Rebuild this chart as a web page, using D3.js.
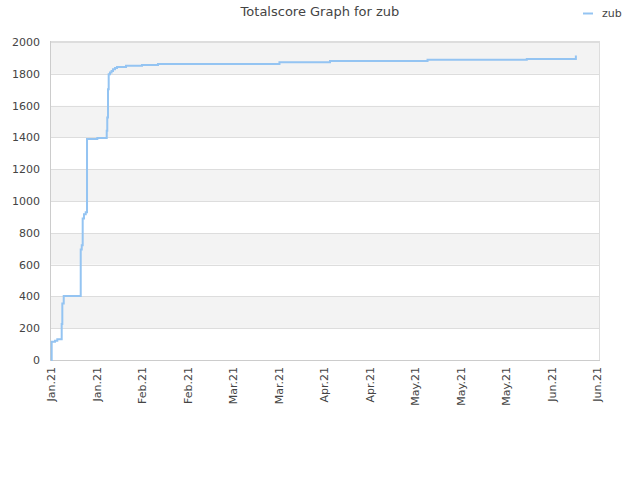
<!DOCTYPE html>
<html><head><meta charset="utf-8">
<script src="https://cdn.jsdelivr.net/npm/d3@7/dist/d3.min.js"></script>
<style>body{margin:0;background:#fff}svg{display:block}text{font-family:"DejaVu Sans",sans-serif}</style>
</head><body>
<svg id="c" width="640" height="480"></svg>
<script>
const title = "Totalscore Graph for zub";
const seriesName = "zub";
const dates = ["2021-01-10T01:00","2021-01-10T05:00","2021-01-11T05:30","2021-01-11T22:30","2021-01-13T07:00","2021-01-13T11:30","2021-01-13T22:00","2021-01-19T03:30","2021-01-19T11:00","2021-01-19T18:00","2021-01-20T03:30","2021-01-20T16:30","2021-01-21T02:00","2021-01-24T06:00","2021-01-27T03:30","2021-01-27T07:30","2021-01-27T13:00","2021-01-27T18:00","2021-01-28T03:30","2021-01-28T15:00","2021-01-29T02:00","2021-01-29T16:30","2021-01-30T07:30","2021-02-02T02:00","2021-02-07T00:00","2021-02-11T22:00","2021-03-21T07:00","2021-04-05T20:30","2021-05-05T20:30","2021-06-05T09:30","2021-06-20T12:00"];
const scores = [0,115,121,130,226,356,402,695,722,890,917,929,1390,1396,1442,1525,1703,1797,1808,1818,1829,1837,1843,1851,1856,1861,1873,1881,1888,1893,1915];
const tickDates = ["2021-01-10","2021-01-24","2021-02-07","2021-02-21","2021-03-07","2021-03-21","2021-04-04","2021-04-18","2021-05-02","2021-05-16","2021-05-30","2021-06-13","2021-06-27"];
const tickLabels = ["Jan.21","Jan.21","Feb.21","Feb.21","Mar.21","Mar.21","Apr.21","Apr.21","May.21","May.21","May.21","Jun.21","Jun.21"];
const yTicks = [0,200,400,600,800,1000,1200,1400,1600,1800,2000];

const svg = d3.select("#c");
const L=50,R=600,T=41,B=360;
const parse = d3.timeParse("%Y-%m-%dT%H:%M");
const parseD = d3.timeParse("%Y-%m-%d");
const data = dates.map((d,i)=>({d:parse(d),v:scores[i]}));
const tks = tickDates.map(parseD);
const x = d3.scaleTime().domain([tks[0], tks[tks.length-1]]).range([51,597]);
const y = d3.scaleLinear().domain([0,2000]).range([B,42]);

// bands
for(let i=0;i<yTicks.length-1;i++){
  const a=yTicks[i], b=yTicks[i+1];
  const top = i===yTicks.length-2 ? T : y(b);
  svg.append("rect").attr("x",L).attr("width",R-L)
    .attr("y", top).attr("height", y(a)-top)
    .attr("fill", (i%2===1)?"#f3f3f3":"#ffffff");
}
// grid
svg.append("g").selectAll("line").data(yTicks).join("line")
  .attr("x1",L).attr("x2",R).attr("y1",d=>Math.round(y(d))+0.5).attr("y2",d=>Math.round(y(d))+0.5)
  .attr("stroke","#dddddd").attr("stroke-width",1);
// border
svg.append("rect").attr("x",L+0.5).attr("y",T+0.5).attr("width",R-L-1).attr("height",B-T)
  .attr("fill","none").attr("stroke","#dddddd");
svg.append("line").attr("x1",L+0.5).attr("x2",L+0.5).attr("y1",T).attr("y2",B+0.5).attr("stroke","#cccccc");
svg.append("line").attr("x1",L).attr("x2",R).attr("y1",B+0.5).attr("y2",B+0.5).attr("stroke","#cccccc");

// y labels
const ya = d3.axisLeft(y).tickValues(yTicks).tickSize(0).tickPadding(10).tickFormat(d3.format("d"));
const gy = svg.append("g").attr("transform",`translate(${L},0)`).call(ya);
gy.select(".domain").remove();
gy.selectAll("text").attr("font-size",11).attr("fill","#444").attr("font-family","DejaVu Sans");

// x labels
const xa = d3.axisBottom(x).tickValues(tks).tickSize(0).tickFormat((d,i)=>tickLabels[i]);
const gx = svg.append("g").attr("transform",`translate(0,${B})`).call(xa);
gx.select(".domain").remove();
gx.selectAll("text").attr("font-size",11).attr("fill","#444").attr("font-family","DejaVu Sans")
  .attr("text-anchor","end").attr("dy","0.35em").attr("y",0)
  .attr("transform","translate(0,7) rotate(-90)");

// line
const line = d3.line().x(d=>x(d.d)).y(d=>y(d.v)).curve(d3.curveStepAfter);
svg.append("path").datum(data).attr("d",line).attr("fill","none")
  .attr("stroke","#94c4f2").attr("stroke-width",2);

// title
svg.append("text").attr("x",320).attr("y",16).attr("text-anchor","middle")
  .attr("font-size",13).attr("fill","#444").text(title);
// legend
svg.append("line").attr("x1",583).attr("x2",593).attr("y1",13.5).attr("y2",13.5)
  .attr("stroke","#94c4f2").attr("stroke-width",2);
svg.append("text").attr("x",602).attr("y",13).attr("dy","0.35em").attr("font-size",11).attr("fill","#444").text(seriesName);
</script>
</body></html>
